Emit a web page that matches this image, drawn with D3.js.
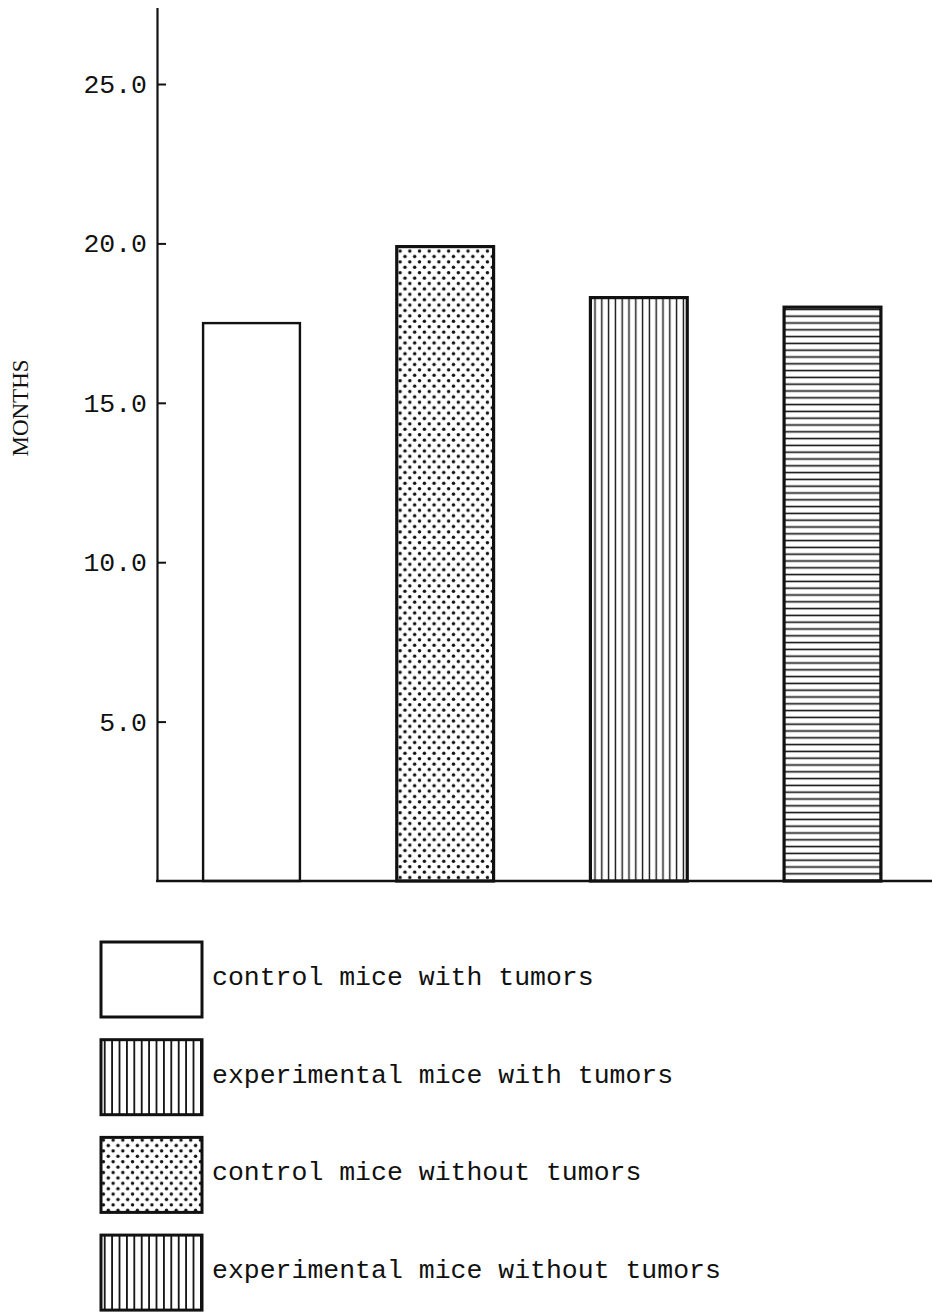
<!DOCTYPE html>
<html><head><meta charset="utf-8">
<script src="https://cdn.jsdelivr.net/npm/d3@7/dist/d3.min.js"></script>
<style>html,body{margin:0;padding:0;background:#fff}</style>
</head><body>
<svg id="chart" width="932" height="1315"></svg>
<script>
// ---- data ----
const categories = ["control mice with tumors", "control mice without tumors", "experimental mice with tumors", "experimental mice without tumors"];
const values = [17.5, 19.9, 18.3, 18.0];
const barFills = ["none", "dots", "vlines", "hlines"];
const yTicks = [5, 10, 15, 20, 25];
const yAxisTop = 27.4;
const yLabel = "MONTHS";
const legendLabels = ["control mice with tumors", "experimental mice with tumors", "control mice without tumors", "experimental mice without tumors"];
const legendFills = ["none", "vlinesWide", "dots", "vlinesWide"];

// ---- layout ----
const svg = d3.select("#chart");
const axisX = 157, baseY = 881, topY = 7.5;
const mono = "'Liberation Mono','Courier New',Courier,monospace";
const ink = "#111";

const defs = svg.append("defs");
function linePattern(id, w, h, vertical, sw) {
  const p = defs.append("pattern").attr("id", id).attr("patternUnits", "userSpaceOnUse")
    .attr("width", w).attr("height", h);
  p.append("rect").attr("width", w).attr("height", h).attr("fill", "#fff");
  if (vertical) p.append("line").attr("x1", w / 2).attr("x2", w / 2).attr("y1", 0).attr("y2", h)
    .attr("stroke", ink).attr("stroke-width", sw);
  else p.append("line").attr("y1", h / 2).attr("y2", h / 2).attr("x1", 0).attr("x2", w)
    .attr("stroke", ink).attr("stroke-width", sw);
}
linePattern("vlines", 6.8, 10, true, 1.4);
linePattern("hlines", 10, 6.8, false, 1.6);
linePattern("vlinesWide", 7.4, 10, true, 1.8);
(function () {
  const w = 9.7, h = 10.8;
  const p = defs.append("pattern").attr("id", "dots").attr("patternUnits", "userSpaceOnUse")
    .attr("width", w).attr("height", h);
  p.append("rect").attr("width", w).attr("height", h).attr("fill", "#fff");
  [[w * 0.25, h * 0.25], [w * 0.75, h * 0.75]].forEach(([cx, cy]) =>
    p.append("circle").attr("cx", cx).attr("cy", cy).attr("r", 1.75).attr("fill", ink));
})();
const fillOf = f => f === "none" ? "#fff" : `url(#${f})`;

const y = d3.scaleLinear().domain([0, yAxisTop]).range([baseY, topY]);
const x = d3.scaleBand().domain(categories).range([axisX, 927]).paddingInner(0.5).paddingOuter(0.238);

// bars
svg.append("g").selectAll("rect").data(categories).join("rect")
  .attr("x", d => x(d))
  .attr("y", (d, i) => y(values[i]))
  .attr("width", x.bandwidth())
  .attr("height", (d, i) => y(0) - y(values[i]))
  .attr("fill", (d, i) => fillOf(barFills[i]))
  .attr("stroke", ink)
  .attr("stroke-width", (d, i) => barFills[i] === "none" ? 2.4 : 3.2);

// y axis
const yAxis = svg.append("g").attr("transform", `translate(${axisX},0)`)
  .call(d3.axisLeft(y).tickValues(yTicks).tickFormat(d3.format(".1f"))
    .tickSizeInner(-9).tickSizeOuter(0).tickPadding(10));
yAxis.select(".domain").attr("stroke", ink).attr("stroke-width", 2.2);
yAxis.selectAll(".tick line").attr("stroke", ink).attr("stroke-width", 2);
yAxis.selectAll(".tick text").attr("fill", ink).style("font-family", mono).style("font-size", "26.5px");

// x baseline
svg.append("line").attr("x1", axisX - 1).attr("x2", 932).attr("y1", y(0)).attr("y2", y(0))
  .attr("stroke", ink).attr("stroke-width", 2.4);

// y label
svg.append("text").attr("transform", "translate(28,408) rotate(-90)")
  .attr("text-anchor", "middle").attr("fill", ink)
  .style("font-family", "'Liberation Serif','Times New Roman',serif").style("font-size", "23px")
  .text(yLabel);

// legend
const lg = svg.append("g").selectAll("g").data(legendLabels).join("g")
  .attr("transform", (d, i) => `translate(101,${942 + i * 97.7})`);
lg.append("rect").attr("width", 101).attr("height", 75)
  .attr("fill", (d, i) => fillOf(legendFills[i]))
  .attr("stroke", ink).attr("stroke-width", 3);
lg.append("text").attr("x", 111).attr("y", 43).attr("fill", ink)
  .style("font-family", mono).style("font-size", "26.5px")
  .text(d => d);
</script>
</body></html>
